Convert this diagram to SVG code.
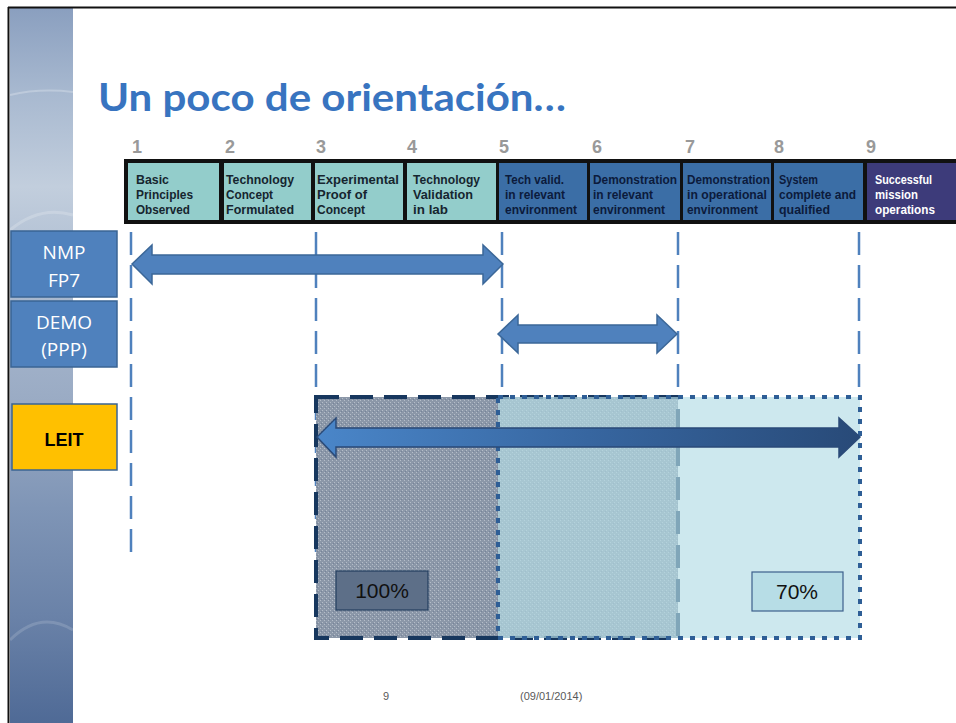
<svg xmlns="http://www.w3.org/2000/svg" width="956" height="723" viewBox="0 0 956 723">
<style>
.num{font-family:"Liberation Sans",Arial,sans-serif;font-size:18px;font-weight:bold;fill:#999999;}
.cell{font-family:"Liberation Sans",Arial,sans-serif;font-size:13px;font-weight:bold;}
.dk{fill:#16252f;}
.nv{fill:#0c1b3c;}
.wh{fill:#ffffff;}
.lbl{font-family:"Open Sans","Noto Sans",sans-serif;font-size:19px;fill:#ffffff;text-anchor:middle;}
.vl{stroke:#4f81bd;stroke-width:2.5;stroke-dasharray:23 10;fill:none;}
.arr{fill:#4f81bd;stroke:#3b6798;stroke-width:1.5;}
.pct{font-family:"Liberation Sans",Arial,sans-serif;font-size:21px;fill:#111;text-anchor:middle;}
.foot{font-family:"Liberation Sans",Arial,sans-serif;font-size:11px;fill:#595959;}
</style>
<defs>
<linearGradient id="strip" x1="0" y1="0" x2="0" y2="1">
<stop offset="0" stop-color="#8a9fbf"/>
<stop offset="0.12" stop-color="#a8b9d0"/>
<stop offset="0.25" stop-color="#c2cedd"/>
<stop offset="0.4" stop-color="#a9b9cf"/>
<stop offset="0.55" stop-color="#9aabc4"/>
<stop offset="0.7" stop-color="#7f95b6"/>
<stop offset="0.85" stop-color="#6a82a8"/>
<stop offset="1" stop-color="#4f6a96"/>
</linearGradient>
<linearGradient id="arrg" x1="0" y1="0" x2="1" y2="0">
<stop offset="0" stop-color="#4a86c9"/>
<stop offset="0.5" stop-color="#3766a0"/>
<stop offset="1" stop-color="#284a78"/>
</linearGradient>
<pattern id="stip" width="4" height="4" patternUnits="userSpaceOnUse">
<rect width="4" height="4" fill="#8b97a8"/>
<rect x="0" y="0" width="1" height="1" fill="#b4bdc9"/>
<rect x="2" y="2" width="1" height="1" fill="#b4bdc9"/>
<rect x="1" y="3" width="1" height="1" fill="#76849a"/>
</pattern>
</defs>

<g id="background">
<rect x="0" y="0" width="956" height="723" fill="#ffffff"/>
<rect x="10" y="8" width="63" height="715" fill="url(#strip)"/>
<path d="M10,95 Q40,88 73,92" stroke="#ffffff" stroke-opacity="0.25" stroke-width="2" fill="none"/>
<path d="M10,230 Q40,205 73,215" stroke="#ffffff" stroke-opacity="0.2" stroke-width="3" fill="none"/>
<path d="M10,640 Q40,610 73,630" stroke="#ffffff" stroke-opacity="0.15" stroke-width="3" fill="none"/>
<line x1="8.5" y1="7" x2="8.5" y2="723" stroke="#111" stroke-width="2"/>
<line x1="8" y1="7.5" x2="956" y2="7.5" stroke="#111" stroke-width="2"/>
</g>

<g id="title">
<text x="98" y="111" font-family="Lato,'Open Sans',sans-serif" font-size="38" font-weight="bold" fill="#3874c0" textLength="468" lengthAdjust="spacingAndGlyphs">Un poco de orientación…</text>
</g>

<g id="scale-numbers">
<text class="num" x="132" y="153">1</text>
<text class="num" x="225" y="153">2</text>
<text class="num" x="316" y="153">3</text>
<text class="num" x="407" y="153">4</text>
<text class="num" x="499" y="153">5</text>
<text class="num" x="592" y="153">6</text>
<text class="num" x="685" y="153">7</text>
<text class="num" x="774" y="153">8</text>
<text class="num" x="866" y="153">9</text>
</g>

<g id="trl-bar">
<rect x="124" y="159" width="832" height="65" fill="#111111"/>
<rect x="128" y="163" width="91" height="57" fill="#93cdcb"/>
<rect x="224" y="163" width="87" height="57" fill="#93cdcb"/>
<rect x="315" y="163" width="88" height="57" fill="#93cdcb"/>
<rect x="407" y="163" width="89" height="57" fill="#93cdcb"/>
<rect x="499" y="163" width="88" height="57" fill="#3b6ea6"/>
<rect x="590" y="163" width="90" height="57" fill="#3b6ea6"/>
<rect x="683" y="163" width="88" height="57" fill="#3b6ea6"/>
<rect x="774" y="163" width="89" height="57" fill="#3b6ea6"/>
<rect x="867" y="163" width="89" height="57" fill="#3d3b7a"/>

<text class="cell dk" transform="translate(136 184) scale(0.84 1)" textLength="39.3" lengthAdjust="spacingAndGlyphs">Basic</text>
<text class="cell dk" transform="translate(136 199) scale(0.84 1)" textLength="67.9" lengthAdjust="spacingAndGlyphs">Principles</text>
<text class="cell dk" transform="translate(136 214) scale(0.84 1)" textLength="64.3" lengthAdjust="spacingAndGlyphs">Observed</text>

<text class="cell dk" transform="translate(226 184) scale(0.84 1)" textLength="81" lengthAdjust="spacingAndGlyphs">Technology</text>
<text class="cell dk" transform="translate(226 199) scale(0.84 1)" textLength="56" lengthAdjust="spacingAndGlyphs">Concept</text>
<text class="cell dk" transform="translate(226 214) scale(0.84 1)" textLength="81" lengthAdjust="spacingAndGlyphs">Formulated</text>

<text class="cell dk" transform="translate(317 184) scale(0.84 1)" textLength="97.6" lengthAdjust="spacingAndGlyphs">Experimental</text>
<text class="cell dk" transform="translate(317 199) scale(0.84 1)" textLength="59.5" lengthAdjust="spacingAndGlyphs">Proof of</text>
<text class="cell dk" transform="translate(317 214) scale(0.84 1)" textLength="57.1" lengthAdjust="spacingAndGlyphs">Concept</text>

<text class="cell dk" transform="translate(413 184) scale(0.84 1)" textLength="79.8" lengthAdjust="spacingAndGlyphs">Technology</text>
<text class="cell dk" transform="translate(413 199) scale(0.84 1)" textLength="71.4" lengthAdjust="spacingAndGlyphs">Validation</text>
<text class="cell dk" transform="translate(413 214) scale(0.84 1)" textLength="41.7" lengthAdjust="spacingAndGlyphs">in lab</text>

<text class="cell nv" transform="translate(505 184) scale(0.84 1)" textLength="70.2" lengthAdjust="spacingAndGlyphs">Tech valid.</text>
<text class="cell nv" transform="translate(505 199) scale(0.84 1)" textLength="71.4" lengthAdjust="spacingAndGlyphs">in relevant</text>
<text class="cell nv" transform="translate(505 214) scale(0.84 1)" textLength="85.7" lengthAdjust="spacingAndGlyphs">environment</text>

<text class="cell nv" transform="translate(593 184) scale(0.84 1)" textLength="100" lengthAdjust="spacingAndGlyphs">Demonstration</text>
<text class="cell nv" transform="translate(593 199) scale(0.84 1)" textLength="71.4" lengthAdjust="spacingAndGlyphs">in relevant</text>
<text class="cell nv" transform="translate(593 214) scale(0.84 1)" textLength="85.7" lengthAdjust="spacingAndGlyphs">environment</text>

<text class="cell nv" transform="translate(687 184) scale(0.84 1)" textLength="98.8" lengthAdjust="spacingAndGlyphs">Demonstration</text>
<text class="cell nv" transform="translate(687 199) scale(0.84 1)" textLength="95.2" lengthAdjust="spacingAndGlyphs">in operational</text>
<text class="cell nv" transform="translate(687 214) scale(0.84 1)" textLength="84.5" lengthAdjust="spacingAndGlyphs">environment</text>

<text class="cell nv" transform="translate(779 184) scale(0.84 1)" textLength="46.4" lengthAdjust="spacingAndGlyphs">System</text>
<text class="cell nv" transform="translate(779 199) scale(0.84 1)" textLength="91.7" lengthAdjust="spacingAndGlyphs">complete and</text>
<text class="cell nv" transform="translate(779 214) scale(0.84 1)" textLength="60.7" lengthAdjust="spacingAndGlyphs">qualified</text>

<text class="cell wh" transform="translate(875 184) scale(0.84 1)" textLength="67.9" lengthAdjust="spacingAndGlyphs">Successful</text>
<text class="cell wh" transform="translate(875 199) scale(0.84 1)" textLength="51.2" lengthAdjust="spacingAndGlyphs">mission</text>
<text class="cell wh" transform="translate(875 214) scale(0.84 1)" textLength="71.4" lengthAdjust="spacingAndGlyphs">operations</text>
</g>

<g id="node-nmp">
<rect x="11" y="231" width="106" height="66" fill="#4f81bd" stroke="#3a6494" stroke-width="1.5"/>
<text class="lbl" x="64" y="259">NMP</text>
<text class="lbl" x="64" y="287">FP7</text>
</g>
<g id="node-demo">
<rect x="11" y="301" width="106" height="66" fill="#4f81bd" stroke="#3a6494" stroke-width="1.5"/>
<text class="lbl" x="64" y="329">DEMO</text>
<text class="lbl" x="64" y="356">(PPP)</text>
</g>
<g id="node-leit">
<rect x="12" y="404" width="105" height="66" fill="#ffc000" stroke="#3a6494" stroke-width="1.5"/>
<text x="64" y="446" font-family="'Liberation Sans',Arial,sans-serif" font-size="18" font-weight="bold" fill="#000" text-anchor="middle">LEIT</text>
</g>

<g id="guides">
<line class="vl" x1="131" y1="232" x2="131" y2="556"/>
<line class="vl" x1="316" y1="232" x2="316" y2="560"/>
<line class="vl" x1="502" y1="232" x2="502" y2="400"/>
<line class="vl" x1="678" y1="232" x2="678" y2="400"/>
<line class="vl" x1="859" y1="232" x2="859" y2="400"/>
</g>

<g id="funding-100">
<rect x="316" y="397" width="362" height="241" fill="url(#stip)" stroke="#17375e" stroke-width="4" stroke-dasharray="23 11"/>
</g>
<g id="funding-70">
<rect x="498" y="397" width="362" height="241" fill="#b4dde5" fill-opacity="0.67" stroke="#2e5e96" stroke-width="4" stroke-dasharray="5 7"/>
</g>

<g id="connectors">
<path class="arr" d="M132,264 L152,245 L152,255 L483,255 L483,245 L503,264 L483,284 L483,274 L152,274 L152,284 Z"/>
<path class="arr" d="M498,334 L518,315 L518,325 L657,325 L657,315 L677,334 L657,353 L657,343 L518,343 L518,353 Z"/>
<path d="M317,437 L336,418 L336,428 L839,428 L839,418 L860,437 L839,457 L839,447 L336,447 L336,457 Z" fill="url(#arrg)" stroke="#2a4a78" stroke-width="1.5"/>
</g>

<g id="label-100">
<rect x="336" y="571" width="92" height="39" fill="#5d6f88" stroke="#243f60" stroke-width="1.2"/>
<text class="pct" x="382" y="598">100%</text>
</g>
<g id="label-70">
<rect x="752" y="572" width="91" height="39" fill="#b7dde6" stroke="#3c5f8c" stroke-width="1.2"/>
<text class="pct" x="797" y="599">70%</text>
</g>

<g id="footer">
<text class="foot" x="383" y="700">9</text>
<text class="foot" x="520" y="700">(09/01/2014)</text>
</g>
</svg>
